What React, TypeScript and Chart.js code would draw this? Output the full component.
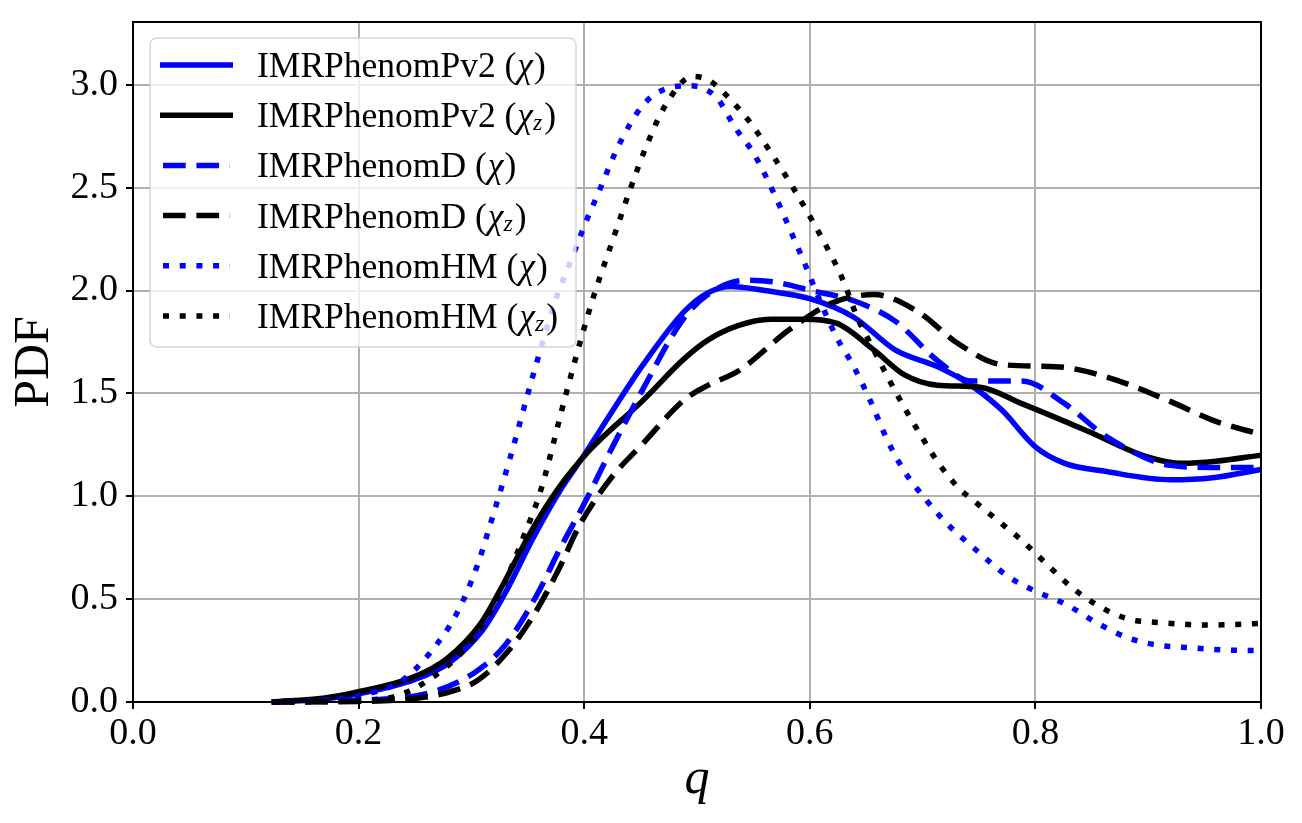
import { useEffect, useRef } from "react";
import { Chart, registerables } from "chart.js";

Chart.register(...registerables);

const FONT = "'Liberation Serif', 'DejaVu Serif', serif";

// IMRPhenomPv2 (chi)
const qPv2Chi = [0.123, 0.17, 0.2, 0.25, 0.28, 0.31, 0.33, 0.355, 0.38, 0.4, 0.414, 0.451, 0.489, 0.51, 0.53, 0.56, 0.6, 0.639, 0.676, 0.713, 0.74, 0.77, 0.8, 0.826, 0.863, 0.92, 0.957, 1.0];
const pdfPv2Chi = [0.0, 0.015, 0.04, 0.11, 0.19, 0.35, 0.53, 0.8, 1.04, 1.2, 1.32, 1.63, 1.9, 1.99, 2.02, 2.0, 1.96, 1.87, 1.71, 1.63, 1.55, 1.42, 1.24, 1.16, 1.12, 1.08, 1.09, 1.13];

// IMRPhenomPv2 (chi_z)
const qPv2ChiZ = [0.123, 0.17, 0.2, 0.248, 0.278, 0.308, 0.328, 0.352, 0.376, 0.405, 0.451, 0.489, 0.51, 0.537, 0.565, 0.594, 0.624, 0.657, 0.684, 0.713, 0.751, 0.788, 0.845, 0.9, 0.93, 0.96, 1.0];
const pdfPv2ChiZ = [0.0, 0.02, 0.05, 0.12, 0.21, 0.38, 0.57, 0.82, 1.03, 1.225, 1.46, 1.67, 1.76, 1.83, 1.86, 1.86, 1.84, 1.71, 1.59, 1.54, 1.53, 1.45, 1.32, 1.19, 1.16, 1.17, 1.2];

// IMRPhenomD (chi)
const qDChi = [0.123, 0.2, 0.263, 0.302, 0.33, 0.358, 0.379, 0.401, 0.423, 0.451, 0.489, 0.515, 0.545, 0.57, 0.601, 0.639, 0.676, 0.713, 0.743, 0.788, 0.826, 0.863, 0.92, 0.96, 1.0];
const pdfDChi = [0.0, 0.008, 0.045, 0.14, 0.277, 0.52, 0.75, 0.974, 1.217, 1.51, 1.87, 2.0, 2.05, 2.04, 2.0, 1.95, 1.85, 1.66, 1.56, 1.56, 1.45, 1.29, 1.15, 1.14, 1.14];

// IMRPhenomD (chi_z)
const qDChiZ = [0.123, 0.2, 0.24, 0.278, 0.306, 0.333, 0.355, 0.377, 0.396, 0.424, 0.451, 0.489, 0.51, 0.537, 0.582, 0.62, 0.657, 0.695, 0.732, 0.77, 0.818, 0.863, 0.92, 0.957, 1.0];
const pdfDChiZ = [0.0, 0.003, 0.012, 0.045, 0.107, 0.25, 0.42, 0.64, 0.86, 1.09, 1.25, 1.47, 1.54, 1.61, 1.81, 1.94, 1.98, 1.9, 1.74, 1.64, 1.63, 1.58, 1.46, 1.37, 1.3];

// IMRPhenomHM (chi)
const qHMChi = [0.123, 0.17, 0.2, 0.239, 0.263, 0.287, 0.305, 0.316, 0.334, 0.354, 0.375, 0.39, 0.399, 0.413, 0.431, 0.452, 0.472, 0.493, 0.517, 0.534, 0.552, 0.594, 0.609, 0.624, 0.639, 0.654, 0.669, 0.684, 0.702, 0.721, 0.743, 0.777, 0.801, 0.828, 0.854, 0.881, 0.9075, 0.937, 0.966, 1.0];
const pdfHMChi = [0.0, 0.01, 0.03, 0.107, 0.237, 0.43, 0.66, 0.85, 1.18, 1.575, 1.96, 2.17, 2.3, 2.48, 2.71, 2.9, 2.98, 2.995, 2.94, 2.79, 2.65, 2.15, 1.95, 1.77, 1.63, 1.46, 1.27, 1.12, 0.99, 0.87, 0.76, 0.606, 0.536, 0.472, 0.386, 0.314, 0.277, 0.264, 0.253, 0.25];

// IMRPhenomHM (chi_z)
const qHMChiZ = [0.123, 0.2, 0.234, 0.263, 0.293, 0.313, 0.328, 0.346, 0.361, 0.384, 0.399, 0.41, 0.425, 0.44, 0.455, 0.472, 0.496, 0.511, 0.531, 0.552, 0.62, 0.631, 0.642, 0.654, 0.669, 0.684, 0.698, 0.713, 0.732, 0.745, 0.766, 0.789, 0.81, 0.832, 0.856, 0.882, 0.91, 0.955, 1.0];
const pdfHMChiZ = [0.0, 0.008, 0.03, 0.11, 0.25, 0.4, 0.56, 0.8, 1.02, 1.5, 1.8, 2.0, 2.24, 2.48, 2.7, 2.9, 3.04, 3.02, 2.92, 2.78, 2.16, 2.03, 1.87, 1.74, 1.58, 1.43, 1.3, 1.17, 1.04, 0.98, 0.885, 0.78, 0.67, 0.558, 0.467, 0.404, 0.386, 0.374, 0.382];

const seriesLabels = [
  "IMRPhenomPv2 (χ)",
  "IMRPhenomPv2 (χ_z)",
  "IMRPhenomD (χ)",
  "IMRPhenomD (χ_z)",
  "IMRPhenomHM (χ)",
  "IMRPhenomHM (χ_z)",
];
const seriesQ = [qPv2Chi, qPv2ChiZ, qDChi, qDChiZ, qHMChi, qHMChiZ];
const seriesPdf = [pdfPv2Chi, pdfPv2ChiZ, pdfDChi, pdfDChiZ, pdfHMChi, pdfHMChiZ];
const seriesColors = ["#0000ff", "#000000", "#0000ff", "#000000", "#0000ff", "#000000"];
const seriesStyles = ["solid", "solid", "dashed", "dashed", "dotted", "dotted"];

const xTickStep = 0.2;
const yTickStep = 0.5;
const xTitle = "q";
const yTitle = "PDF";

const LW = 5.5;
const dashFor = (s: string) => (s === "dashed" ? [22.7, 10.7] : s === "dotted" ? [6, 10.7] : []);

const frameAndLegend = {
  id: "frameAndLegend",
  afterDatasetsDraw(chart: any) {
    const ctx = chart.ctx as CanvasRenderingContext2D;
    const ca = chart.chartArea;
    ctx.save();
    ctx.setLineDash([]);
    ctx.strokeStyle = "#000";
    ctx.lineWidth = 2;
    ctx.strokeRect(ca.left, ca.top, ca.right - ca.left, ca.bottom - ca.top);

    const bx = ca.left + 17;
    const by = ca.top + 16;
    const bw = 426;
    const bh = 309;
    const r = 7;
    ctx.beginPath();
    ctx.moveTo(bx + r, by);
    ctx.lineTo(bx + bw - r, by);
    ctx.arcTo(bx + bw, by, bx + bw, by + r, r);
    ctx.lineTo(bx + bw, by + bh - r);
    ctx.arcTo(bx + bw, by + bh, bx + bw - r, by + bh, r);
    ctx.lineTo(bx + r, by + bh);
    ctx.arcTo(bx, by + bh, bx, by + bh - r, r);
    ctx.lineTo(bx, by + r);
    ctx.arcTo(bx, by, bx + r, by, r);
    ctx.closePath();
    ctx.fillStyle = "rgba(255,255,255,0.8)";
    ctx.fill();
    ctx.strokeStyle = "rgba(204,204,204,0.8)";
    ctx.lineWidth = 1.5;
    ctx.stroke();

    chart.data.datasets.forEach((ds: any, i: number) => {
      const cy = by + 27 + i * 50.2;
      const dash = ds.borderDash || [];
      ctx.beginPath();
      ctx.setLineDash(dash);
      ctx.lineDashOffset = 0;
      ctx.strokeStyle = ds.borderColor;
      ctx.lineWidth = ds.borderWidth;
      ctx.lineCap = "butt";
      if (dash.length) {
        ctx.moveTo(bx + 13, cy);
        ctx.lineTo(bx + 80, cy);
      } else {
        ctx.moveTo(bx + 10, cy);
        ctx.lineTo(bx + 83, cy);
      }
      ctx.stroke();
      ctx.setLineDash([]);

      const label: string = ds.label;
      const open = label.indexOf("(");
      const name = label.slice(0, open + 1);
      const inner = label.slice(open + 1, label.length - 1);
      const [sym, sub] = inner.split("_");
      let x = bx + 107;
      const base = cy + 12;
      ctx.fillStyle = "#000";
      ctx.textBaseline = "alphabetic";
      ctx.textAlign = "left";
      ctx.font = `35.5px ${FONT}`;
      ctx.fillText(name, x, base);
      x += ctx.measureText(name).width + 1;
      ctx.font = `italic 35.5px ${FONT}`;
      ctx.fillText(sym, x, base);
      x += ctx.measureText(sym).width;
      if (sub) {
        ctx.font = `italic 24px ${FONT}`;
        ctx.fillText(sub, x, base + 3);
        x += ctx.measureText(sub).width + 1;
      }
      ctx.font = `35.5px ${FONT}`;
      ctx.fillText(")", x + 1, base);
    });
    ctx.restore();
  },
};

export default function App() {
  const ref = useRef<HTMLCanvasElement | null>(null);
  useEffect(() => {
    if (!ref.current) return;
    const datasets = seriesLabels.map((label, i) => ({
      label,
      data: seriesQ[i].map((q, j) => ({ x: q, y: seriesPdf[i][j] })),
      borderColor: seriesColors[i],
      backgroundColor: seriesColors[i],
      borderWidth: LW,
      borderDash: dashFor(seriesStyles[i]),
      pointRadius: 0,
      fill: false,
      cubicInterpolationMode: "monotone" as const,
      order: seriesLabels.length - i,
      clip: 6,
    }));
    const chart = new Chart(ref.current, {
      type: "line",
      data: { datasets },
      options: {
        animation: false,
        responsive: false,
        devicePixelRatio: 1,
        layout: { padding: { top: 22, right: 41, left: 0, bottom: 0 } },
        plugins: { legend: { display: false }, tooltip: { enabled: false } },
        scales: {
          x: {
            type: "linear",
            min: 0,
            max: 1,
            ticks: {
              stepSize: xTickStep,
              includeBounds: false,
              callback: (v: any) => Number(v).toFixed(1),
              font: { family: FONT, size: 38 },
              color: "#000",
              padding: 2,
              maxRotation: 0,
            },
            grid: { color: "#b0b0b0", lineWidth: 2, tickLength: 7, tickColor: "#000", tickWidth: 2 },
            border: { color: "#000", width: 2 },
            title: {
              display: true,
              text: xTitle,
              font: { family: FONT, size: 50, style: "italic" },
              color: "#000",
              padding: { top: 0, bottom: 13 },
            },
            afterFit: (s: any) => {
              s.height = 121;
              s.paddingLeft = 0;
              s.paddingRight = 0;
            },
          },
          y: {
            type: "linear",
            min: 0,
            max: 3.305,
            ticks: {
              stepSize: yTickStep,
              includeBounds: false,
              callback: (v: any) => Number(v).toFixed(1),
              font: { family: FONT, size: 38 },
              color: "#000",
              padding: 8,
            },
            grid: { color: "#b0b0b0", lineWidth: 2, tickLength: 7, tickColor: "#000", tickWidth: 2 },
            border: { color: "#000", width: 2 },
            title: {
              display: true,
              text: yTitle,
              font: { family: FONT, size: 50 },
              color: "#000",
              padding: { top: 5, bottom: 0 },
            },
            afterFit: (s: any) => {
              s.width = 133;
              s.paddingTop = 0;
              s.paddingBottom = 0;
            },
          },
        },
      },
      plugins: [frameAndLegend],
    });
    return () => chart.destroy();
  }, []);
  return (
    <div style={{ position: "absolute", left: 0, top: 0, width: 1302, height: 823, background: "#fff" }}>
      <canvas ref={ref} width={1302} height={823} />
    </div>
  );
}
